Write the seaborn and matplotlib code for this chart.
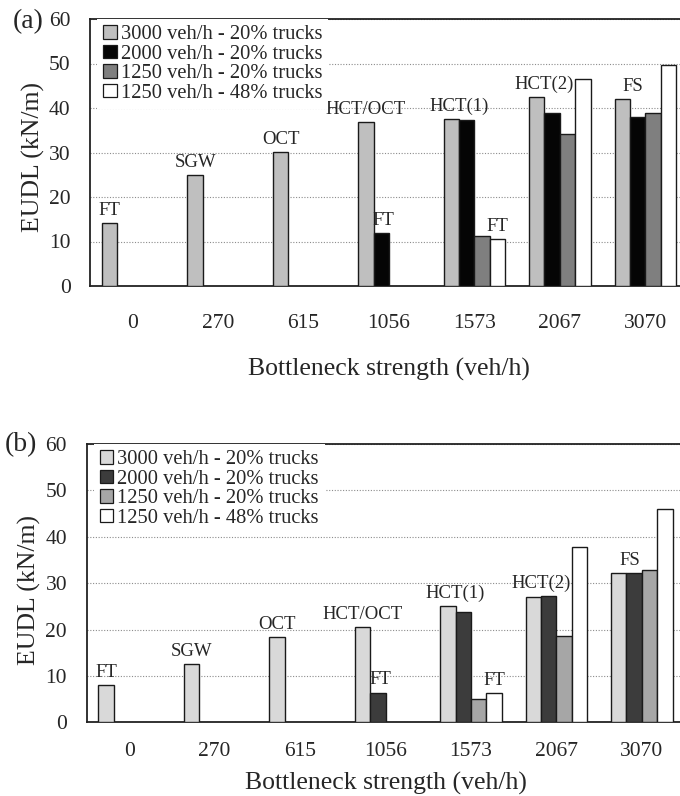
import seaborn as sns
import matplotlib.pyplot as plt
import pandas as pd
from matplotlib.patches import Patch

# Bottleneck strength categories (veh/h)
strengths = ['0', '270', '615', '1056', '1573', '2067', '3070']
series = ['3000 veh/h - 20% trucks', '2000 veh/h - 20% trucks',
          '1250 veh/h - 20% trucks', '1250 veh/h - 48% trucks']

# panel (a) EUDL values (kN/m), None = no bar
a_3000_20 = [14.2, 24.9, 30.1, 36.9, 37.5, 42.4, 42.0]
a_2000_20 = [None, None, None, 11.8, 37.2, 38.8, 37.9]
a_1250_20 = [None, None, None, None, 11.2, 34.2, 38.8]
a_1250_48 = [None, None, None, None, 10.5, 46.6, 49.6]

# panel (b) EUDL values (kN/m)
b_3000_20 = [8.0, 12.6, 18.4, 20.5, 25.1, 27.1, 32.2]
b_2000_20 = [None, None, None, 6.4, 23.7, 27.3, 32.2]
b_1250_20 = [None, None, None, None, 5.0, 18.6, 32.9]
b_1250_48 = [None, None, None, None, 6.3, 37.9, 46.0]

# failure mode labels: (label, category index, slot, series used for height)
modes = [('FT', 0, 0, 0), ('SGW', 1, 0, 0), ('OCT', 2, 0, 0),
         ('HCT/OCT', 3, 0, 0), ('FT', 3, 1.15, 1), ('HCT(1)', 4, 0.5, 0),
         ('FT', 4, 3, 3), ('HCT(2)', 5, 0.5, 0), ('FS', 6, 0.7, 0)]

colors_a = ['#bfbfbf', '#050505', '#7f7f7f', '#ffffff']
colors_b = ['#d9d9d9', '#3c3c3c', '#a6a6a6', '#ffffff']


def make_frame(cols):
    rows = []
    for name, vals in zip(series, cols):
        for s, v in zip(strengths, vals):
            if v is not None:
                rows.append({'strength': s, 'series': name, 'eudl': v})
    return pd.DataFrame(rows)


sns.set_style('white')
plt.rcParams['font.family'] = ['Liberation Serif', 'DejaVu Serif']

fig = plt.figure(figsize=(6.8, 7.96), dpi=100)
ax_a = fig.add_axes([90 / 680, 1 - 286 / 796, 598 / 680, 267 / 796])
ax_b = fig.add_axes([86.5 / 680, 1 - 722.3 / 796, 598 / 680, 278.3 / 796])

panels = [(ax_a, [a_3000_20, a_2000_20, a_1250_20, a_1250_48], colors_a, '(a)', 20, (13, 22)),
          (ax_b, [b_3000_20, b_2000_20, b_1250_20, b_1250_48], colors_b, '(b)', 14, (5, 445))]

width = 0.72
bw = width / len(series)
for ax, cols, colors, tag, xpad, tagpos in panels:
    df = make_frame(cols)
    sns.barplot(data=df, x='strength', y='eudl', hue='series', order=strengths,
                hue_order=series, palette=colors, width=width, edgecolor='#1a1a1a',
                linewidth=1.0, errorbar=None, ax=ax, zorder=3)
    ax.set_ylim(0, 60)
    ax.set_xlim(-0.5, 6.5)
    ax.set_yticks(range(0, 61, 10))
    ax.yaxis.grid(True, linestyle=(0, (1, 1.5)), color='#8c8c8c', linewidth=0.8, zorder=0)
    ax.set_axisbelow(True)
    for sp in ax.spines.values():
        sp.set_color('#222222')
        sp.set_linewidth(1.3)
    ax.tick_params(axis='both', length=0, labelsize=15.5)
    ax.tick_params(axis='y', pad=14)
    ax.tick_params(axis='x', pad=xpad)
    ax.set_xlabel('Bottleneck strength (veh/h)', fontsize=18.5)
    ax.set_ylabel('EUDL (kN/m)', fontsize=18.5)

    for label, ci, slot, si in modes:
        x = ci - width / 2 + bw * (slot + 0.5)
        y = cols[si][ci]
        ax.annotate(label, xy=(x, y), xytext=(0, 3), textcoords='offset points',
                    ha='center', va='bottom', fontsize=13.5, zorder=5)

    handles = [Patch(facecolor=c, edgecolor='#1a1a1a', linewidth=0.9) for c in colors]
    ax.legend(handles, series, loc='upper left', bbox_to_anchor=(0.012, 1.0),
              borderaxespad=0, borderpad=0.3, labelspacing=0.02, handlelength=0.65,
              handleheight=0.65, handletextpad=0.2, fontsize=14.8, frameon=True,
              facecolor='white', edgecolor='none', fancybox=False, framealpha=1)
    fig.text(tagpos[0] / 680, 1 - tagpos[1] / 796, tag, fontsize=20, ha='left', va='center')

ax_a.xaxis.set_label_coords(0.5, -0.268)
ax_b.xaxis.set_label_coords(0.5, -0.178)
ax_a.yaxis.set_label_coords(-0.075, 0.483)
ax_b.yaxis.set_label_coords(-0.076, 0.475)

fig.savefig('out.png', dpi=100)
